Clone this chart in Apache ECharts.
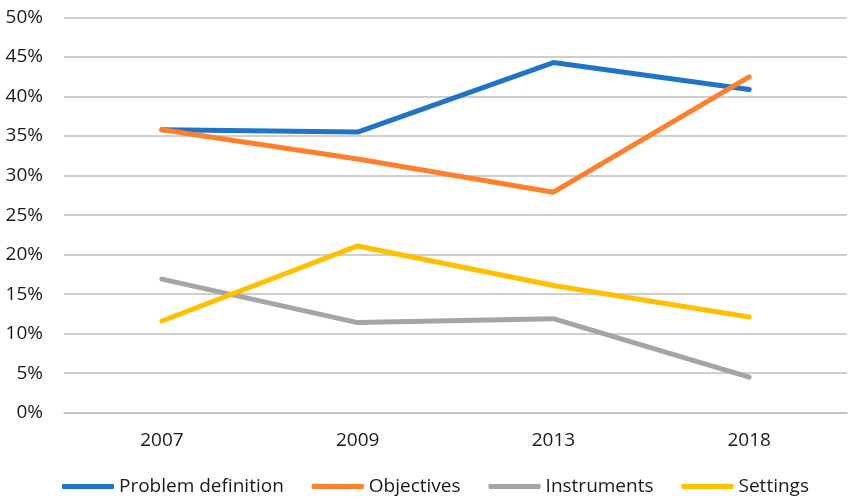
<!DOCTYPE html>
<html>
<head>
<meta charset="utf-8">
<script src="https://cdn.jsdelivr.net/npm/echarts@6/dist/echarts.min.js"></script>
<style>
  html, body { margin: 0; padding: 0; background: #fff; }
  #chart { width: 848px; height: 501px; }
</style>
</head>
<body>
<div id="chart"></div>
<script>
// Survey years on the category axis
const years = ['2007', '2009', '2013', '2018'];

// Share of items per category (percent)
const problemDefinition = [35.8, 35.5, 44.3, 40.9];
const objectives        = [35.8, 32.1, 27.9, 42.5];
const instruments       = [16.9, 11.4, 11.9, 4.5];
const settings          = [11.6, 21.1, 16.1, 12.1];

const seriesNames  = ['Problem definition', 'Objectives', 'Instruments', 'Settings'];
const seriesColors = ['#1F74C8', '#FF7F2A', '#A5A5A5', '#FFC000'];
const seriesData   = [problemDefinition, objectives, instruments, settings];

const fontFamily = '"Open Sans", "Noto Sans", sans-serif';
const textColor = '#1a1a1a';

const chart = echarts.init(document.getElementById('chart'), null, { renderer: 'canvas' });

chart.setOption({
  animation: false,
  backgroundColor: '#ffffff',
  grid: { left: 64, right: 1, top: 17.5, bottom: 88.3, containLabel: false },
  xAxis: {
    type: 'category',
    data: years,
    boundaryGap: true,
    axisLine: { show: true, lineStyle: { color: '#BFBFBF', width: 1.5 } },
    axisTick: { show: false },
    axisLabel: { color: textColor, fontSize: 19, fontFamily: fontFamily, margin: 18 }
  },
  yAxis: {
    type: 'value',
    min: 0,
    max: 50,
    interval: 5,
    axisLine: { show: false },
    axisTick: { show: false },
    axisLabel: { color: textColor, fontSize: 19, fontFamily: fontFamily, margin: 21,
                 formatter: v => v + '%' },
    splitLine: { show: true, lineStyle: { color: '#BFBFBF', width: 1.5 } }
  },
  legend: {
    bottom: 0,
    left: 57,
    itemWidth: 52,
    itemHeight: 5,
    itemGap: 28,
    icon: 'roundRect',
    textStyle: { color: textColor, fontSize: 19, fontFamily: fontFamily },
    data: seriesNames
  },
  series: seriesNames.map((name, i) => ({
    name: name,
    type: 'line',
    data: seriesData[i],
    symbol: 'none',
    smooth: false,
    lineStyle: { color: seriesColors[i], width: 5, cap: 'round', join: 'round' },
    itemStyle: { color: seriesColors[i] }
  }))
});
</script>
</body>
</html>
